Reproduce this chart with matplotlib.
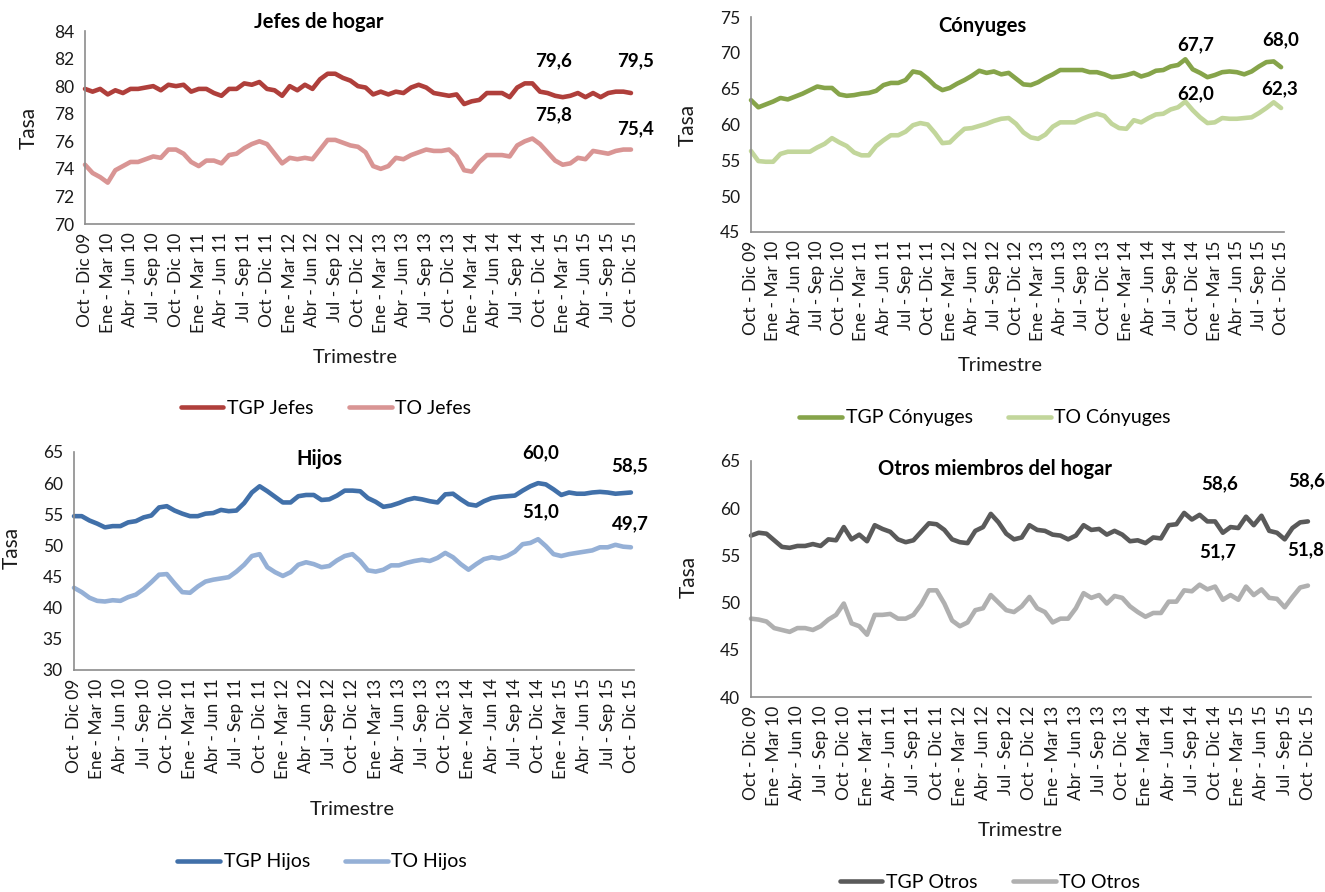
import matplotlib
matplotlib.use('Agg')
import matplotlib.pyplot as plt
import numpy as np

plt.rcParams['font.family'] = ['Lato', 'DejaVu Sans']

W, H = 1325, 892

## Data ##

TICK_LABELS = [
    'Oct - Dic 09', 'Ene - Mar 10', 'Abr - Jun 10', 'Jul - Sep 10',
    'Oct - Dic 10', 'Ene - Mar 11', 'Abr - Jun 11', 'Jul - Sep 11',
    'Oct - Dic 11', 'Ene - Mar 12', 'Abr - Jun 12', 'Jul - Sep 12',
    'Oct - Dic 12', 'Ene - Mar 13', 'Abr - Jun 13', 'Jul - Sep 13',
    'Oct - Dic 13', 'Ene - Mar 14', 'Abr - Jun 14', 'Jul - Sep 14',
    'Oct - Dic 14', 'Ene - Mar 15', 'Abr - Jun 15', 'Jul - Sep 15',
    'Oct - Dic 15',
]

JEFES_TGP = [79.8, 79.6, 79.8, 79.4, 79.7, 79.5, 79.8, 79.8, 79.9, 80.0,
             79.7, 80.1, 80.0, 80.1, 79.6, 79.8, 79.8, 79.5, 79.3, 79.8,
             79.8, 80.2, 80.1, 80.3, 79.8, 79.7, 79.3, 80.0, 79.7, 80.1,
             79.8, 80.5, 80.9, 80.9, 80.6, 80.4, 80.0, 79.9, 79.4, 79.6,
             79.4, 79.6, 79.5, 79.9, 80.1, 79.9, 79.5, 79.4, 79.3, 79.4,
             78.7, 78.9, 79.0, 79.5, 79.5, 79.5, 79.2, 79.9, 80.2, 80.2,
             79.6, 79.5, 79.3, 79.2, 79.3, 79.5, 79.2, 79.5, 79.2, 79.5,
             79.6, 79.6, 79.5]
JEFES_TO = [74.3, 73.7, 73.4, 73.0, 73.9, 74.2, 74.5, 74.5, 74.7, 74.9,
            74.8, 75.4, 75.4, 75.1, 74.5, 74.2, 74.6, 74.6, 74.4, 75.0,
            75.1, 75.5, 75.8, 76.0, 75.8, 75.1, 74.4, 74.8, 74.7, 74.8,
            74.7, 75.4, 76.1, 76.1, 75.9, 75.7, 75.6, 75.2, 74.2, 74.0,
            74.2, 74.8, 74.7, 75.0, 75.2, 75.4, 75.3, 75.3, 75.4, 74.9,
            73.9, 73.8, 74.5, 75.0, 75.0, 75.0, 74.9, 75.7, 76.0, 76.2,
            75.8, 75.2, 74.6, 74.3, 74.4, 74.8, 74.7, 75.3, 75.2, 75.1,
            75.3, 75.4, 75.4]

CONY_TGP = [63.4, 62.4, 62.8, 63.2, 63.7, 63.5, 63.9, 64.3, 64.8, 65.3,
            65.1, 65.1, 64.2, 64.0, 64.1, 64.3, 64.4, 64.7, 65.5, 65.8,
            65.8, 66.2, 67.4, 67.2, 66.4, 65.4, 64.8, 65.1, 65.7, 66.2,
            66.8, 67.5, 67.2, 67.4, 67.0, 67.2, 66.4, 65.6, 65.5, 65.9,
            66.5, 67.0, 67.6, 67.6, 67.6, 67.6, 67.3, 67.3, 67.0, 66.6,
            66.7, 66.9, 67.2, 66.7, 67.0, 67.5, 67.6, 68.1, 68.3, 69.1,
            67.7, 67.2, 66.6, 66.9, 67.3, 67.4, 67.3, 67.0, 67.4, 68.1,
            68.7, 68.8, 68.0]
CONY_TO = [56.3, 54.9, 54.8, 54.8, 55.9, 56.2, 56.2, 56.2, 56.2, 56.8,
           57.3, 58.1, 57.5, 57.0, 56.1, 55.7, 55.7, 57.0, 57.8, 58.5,
           58.5, 59.0, 59.9, 60.2, 60.0, 58.8, 57.4, 57.5, 58.5, 59.4,
           59.5, 59.8, 60.1, 60.5, 60.8, 60.9, 60.1, 58.9, 58.2, 58.0,
           58.6, 59.7, 60.3, 60.3, 60.3, 60.8, 61.2, 61.5, 61.2, 60.1,
           59.5, 59.4, 60.6, 60.3, 60.9, 61.4, 61.5, 62.1, 62.4, 63.2,
           62.0, 61.0, 60.2, 60.3, 60.9, 60.8, 60.8, 60.9, 61.0, 61.6,
           62.3, 63.1, 62.3]

HIJOS_TGP = [54.7, 54.7, 54.0, 53.5, 52.9, 53.1, 53.1, 53.7, 53.9, 54.5,
             54.8, 56.1, 56.3, 55.6, 55.1, 54.7, 54.7, 55.1, 55.2, 55.7,
             55.5, 55.6, 56.8, 58.5, 59.5, 58.7, 57.8, 56.9, 56.9, 57.9,
             58.1, 58.1, 57.3, 57.4, 58.0, 58.8, 58.8, 58.7, 57.6, 57.0,
             56.2, 56.4, 56.8, 57.3, 57.6, 57.4, 57.1, 56.9, 58.2, 58.3,
             57.4, 56.6, 56.4, 57.1, 57.6, 57.8, 57.9, 58.0, 58.8, 59.5,
             60.0, 59.8, 59.0, 58.1, 58.5, 58.3, 58.3, 58.5, 58.6, 58.5,
             58.3, 58.4, 58.5]
HIJOS_TO = [43.2, 42.5, 41.6, 41.1, 41.0, 41.2, 41.1, 41.7, 42.1, 43.0,
            44.1, 45.3, 45.4, 43.9, 42.5, 42.4, 43.4, 44.2, 44.5, 44.7,
            44.9, 45.8, 46.9, 48.3, 48.6, 46.5, 45.7, 45.1, 45.7, 46.9,
            47.3, 47.0, 46.5, 46.7, 47.6, 48.3, 48.6, 47.5, 46.0, 45.8,
            46.1, 46.8, 46.8, 47.2, 47.5, 47.7, 47.5, 48.0, 48.8, 48.1,
            47.0, 46.1, 47.0, 47.8, 48.1, 47.9, 48.3, 49.0, 50.2, 50.4,
            51.0, 49.9, 48.6, 48.3, 48.6, 48.8, 49.0, 49.2, 49.7, 49.7,
            50.1, 49.8, 49.7]

OTROS_TGP = [57.1, 57.4, 57.3, 56.6, 55.9, 55.8, 56.0, 56.0, 56.2, 56.0,
             56.7, 56.6, 58.0, 56.7, 57.2, 56.5, 58.2, 57.8, 57.5, 56.7,
             56.4, 56.6, 57.5, 58.4, 58.3, 57.7, 56.7, 56.4, 56.3, 57.6,
             58.0, 59.4, 58.5, 57.3, 56.7, 56.9, 58.2, 57.7, 57.6, 57.2,
             57.1, 56.7, 57.1, 58.2, 57.7, 57.8, 57.2, 57.6, 57.2, 56.5,
             56.6, 56.3, 56.9, 56.8, 58.2, 58.3, 59.5, 58.8, 59.3, 58.6,
             58.6, 57.4, 58.0, 57.9, 59.1, 58.2, 59.2, 57.6, 57.4, 56.7,
             57.9, 58.5, 58.6]
OTROS_TO = [48.3, 48.2, 48.0, 47.3, 47.1, 46.9, 47.3, 47.3, 47.1, 47.5,
            48.2, 48.7, 49.9, 47.8, 47.5, 46.6, 48.7, 48.7, 48.8, 48.3,
            48.3, 48.7, 49.8, 51.3, 51.3, 49.9, 48.1, 47.5, 47.9, 49.2,
            49.4, 50.8, 50.0, 49.2, 49.0, 49.6, 50.6, 49.4, 49.0, 47.9,
            48.3, 48.3, 49.4, 51.0, 50.5, 50.8, 49.9, 50.7, 50.5, 49.6,
            49.0, 48.5, 48.9, 48.9, 50.1, 50.1, 51.3, 51.2, 51.9, 51.4,
            51.7, 50.3, 50.8, 50.3, 51.7, 50.8, 51.4, 50.5, 50.4, 49.5,
            50.6, 51.6, 51.8]

LABELED = [60, 72]   # Oct - Dic 14 and Oct - Dic 15


## Panels ##
# box = axes in px (x0, top, x1, bottom); title/legend positions in px;
# ylab/xlab in axes coords; label offsets in points
PANELS = [
    dict(title='Jefes de hogar', tgp=JEFES_TGP, to=JEFES_TO,
         names=('TGP Jefes', 'TO Jefes'), colors=('#AF3F3B', '#D99594'),
         ylim=(70, 84), step=2, box=(85, 31, 634, 224),
         title_pos=(319, 22), legend_pos=(326, 408),
         ylab=(-0.084, 0.5), xlab=(0.493, -0.65),
         off_tgp=[(10, 22), (3, 23)], off_to=[(10, 21), (3, 15)]),
    dict(title='Cónyuges', tgp=CONY_TGP, to=CONY_TO,
         names=('TGP Cónyuges', 'TO Cónyuges'), colors=('#86A44A', '#C2D69B'),
         ylim=(45, 75), step=5, box=(751, 17, 1284, 232),
         title_pos=(982, 26), legend_pos=(985, 418),
         ylab=(-0.099, 0.5), xlab=(0.468, -0.58),
         off_tgp=[(2, 18), (0, 20)], off_to=[(2, 12), (-1, 14)]),
    dict(title='Hijos', tgp=HIJOS_TGP, to=HIJOS_TO,
         names=('TGP Hijos', 'TO Hijos'), colors=('#4170A9', '#95B0D6'),
         ylim=(30, 65), step=5, box=(74, 452, 634, 670),
         title_pos=(319, 459), legend_pos=(322, 862),
         ylab=(-0.093, 0.56), xlab=(0.497, -0.60),
         off_tgp=[(2, 22), (-1, 19)], off_to=[(2, 20), (0, 17)]),
    dict(title='Otros miembros del hogar', tgp=OTROS_TGP, to=OTROS_TO,
         names=('TGP Otros', 'TO Otros'), colors=('#5A5A5A', '#B0B0B0'),
         ylim=(40, 65), step=5, box=(751, 461, 1311, 697),
         title_pos=(995, 469), legend_pos=(990, 882),
         ylab=(-0.094, 0.51), xlab=(0.481, -0.53),
         off_tgp=[(3, 27), (-1, 29)], off_to=[(2, 25), (-2, 26)]),
]


def fmt(v):
    return '{:.1f}'.format(v).replace('.', ',')


fig = plt.figure(figsize=(W / 100, H / 100), dpi=100)
fig.patch.set_facecolor('white')

for p in PANELS:
    x0, top, x1, bot = p['box']
    ax = fig.add_axes([x0 / W, 1 - bot / H, (x1 - x0) / W, (bot - top) / H])
    x = np.arange(len(p['tgp']))
    l1, = ax.plot(x, p['tgp'], color=p['colors'][0], lw=3.3, solid_joinstyle='round', solid_capstyle='round', clip_on=False)
    l2, = ax.plot(x, p['to'], color=p['colors'][1], lw=3.3, solid_joinstyle='round', solid_capstyle='round', clip_on=False)

    # data labels for the last two Oct - Dic quarters
    for series, offs in ((p['tgp'], p['off_tgp']), (p['to'], p['off_to'])):
        for i, (dx, dy) in zip(LABELED, offs):
            ax.annotate(fmt(series[i]), (i, series[i]), xytext=(dx, dy), textcoords='offset points',
                        ha='center', va='center', fontsize=13.5, fontweight='bold', color='black',
                        annotation_clip=False)

    ax.set_xlim(0, 72.4)
    ax.set_ylim(*p['ylim'])
    ax.set_yticks(np.arange(p['ylim'][0], p['ylim'][1] + 0.1, p['step']))
    ax.set_xticks(np.arange(0, 73, 3))
    ax.set_xticklabels(TICK_LABELS, rotation=90, fontsize=12.5, color='#1a1a1a')
    ax.tick_params(axis='y', labelsize=12.5, labelcolor='#1a1a1a', length=0, pad=8)
    ax.tick_params(axis='x', length=0, pad=6)
    for s in ('top', 'right'):
        ax.spines[s].set_visible(False)
    for s in ('left', 'bottom'):
        ax.spines[s].set_color('#8C8C8C')
        ax.spines[s].set_linewidth(1.2)
    ax.set_facecolor('none')

    ax.set_ylabel('Tasa', fontsize=15, color='#1a1a1a')
    ax.yaxis.set_label_coords(*p['ylab'])
    ax.set_xlabel('Trimestre', fontsize=14.5, color='#1a1a1a')
    ax.xaxis.set_label_coords(*p['xlab'])

    fig.text(p['title_pos'][0] / W, 1 - p['title_pos'][1] / H, p['title'],
             ha='center', va='center', fontsize=14.5, fontweight='bold')

    lx, ly = p['legend_pos']
    fig.legend([l1, l2], list(p['names']), loc='center', bbox_to_anchor=(lx / W, 1 - ly / H),
               ncol=2, frameon=False, fontsize=14, handlelength=2.2, columnspacing=1.8,
               handletextpad=0.2)

fig.savefig('out.png', dpi=100)
